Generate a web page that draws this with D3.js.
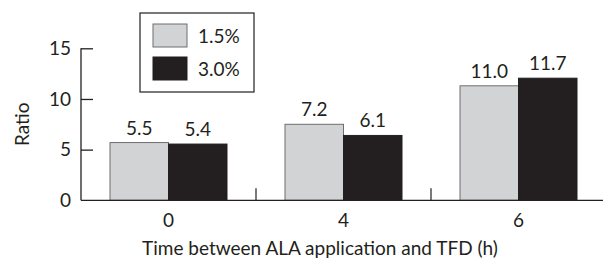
<!DOCTYPE html>
<html>
<head>
<meta charset="utf-8">
<script src="https://cdn.jsdelivr.net/npm/d3@7"></script>
<style>
  html, body { margin: 0; padding: 0; background: #fff; }
  svg { display: block; font-family: Lato, "Open Sans", sans-serif; }
</style>
</head>
<body>
<div id="chart"></div>
<script>
// categories (hours between ALA application and TFD)
const categories = ['0', '4', '6'];
const seriesNames = ['1.5%', '3.0%'];
// bar heights as drawn
const values15 = [5.7, 7.5, 11.3];
const values30 = [5.55, 6.4, 12.05];
// printed value labels
const labels15 = ['5.5', '7.2', '11.0'];
const labels30 = ['5.4', '6.1', '11.7'];
const yTicks = [0, 5, 10, 15];

const width = 603, height = 261;
const ink = '#231f20';
const colors = { '1.5%': '#d1d3d4', '3.0%': '#231f20' };

const rows = categories.map((c, i) => ({
    cat: c,
    bars: [
        { key: '1.5%', value: values15[i], label: labels15[i] },
        { key: '3.0%', value: values30[i], label: labels30[i] },
    ],
}));

const svg = d3.select('#chart')
    .append('svg')
    .attr('width', width)
    .attr('height', height);

const x = d3.scaleBand()
    .domain(categories)
    .range([81, 606]);

const xs = d3.scaleBand()
    .domain(seriesNames)
    .range([29, x.bandwidth() - 29]);

const y = d3.scaleLinear()
    .domain([0, 15])
    .range([200.3, 48.3]);

// bars
const groups = svg.append('g')
    .selectAll('g')
    .data(rows)
    .enter()
    .append('g')
    .attr('transform', d => `translate(${x(d.cat)},0)`);

groups.selectAll('rect')
    .data(d => d.bars)
    .enter()
    .append('rect')
    .attr('x', d => xs(d.key))
    .attr('y', d => y(d.value))
    .attr('width', xs.bandwidth())
    .attr('height', d => y(0) - y(d.value))
    .attr('fill', d => colors[d.key])
    .attr('stroke', d => d.key === '1.5%' ? '#6d6e71' : ink)
    .attr('stroke-width', 1);

groups.selectAll('text')
    .data(d => d.bars)
    .enter()
    .append('text')
    .attr('x', d => xs(d.key) + xs.bandwidth() / 2)
    .attr('y', d => y(d.value) - 8)
    .attr('text-anchor', 'middle')
    .attr('font-size', 19)
    .attr('fill', ink)
    .text(d => d.label);

// y axis (inner ticks)
const yAxis = svg.append('g')
    .attr('transform', 'translate(81,0)')
    .call(d3.axisLeft(y).tickValues(yTicks).tickSize(-12).tickPadding(10));
yAxis.select('.domain').attr('d', `M0,${y(15)}V${y(0)}`);
yAxis.selectAll('.tick').filter(d => d === 0).select('line').remove();

// x axis
const xAxis = svg.append('g')
    .attr('transform', `translate(0,${y(0)})`)
    .call(d3.axisBottom(x).tickSize(0).tickPadding(13));
xAxis.select('.domain').attr('d', 'M81,0H603');

// separator ticks between groups
svg.append('g')
    .selectAll('line')
    .data(categories.slice(1))
    .enter()
    .append('line')
    .attr('x1', d => x(d))
    .attr('x2', d => x(d))
    .attr('y1', y(0))
    .attr('y2', y(0) - 12)
    .attr('stroke', ink)
    .attr('stroke-width', 1.2);

svg.selectAll('.domain, .tick line')
    .attr('stroke', ink)
    .attr('stroke-width', 1.3);
svg.selectAll('.tick text')
    .attr('font-family', 'Lato, "Open Sans", sans-serif')
    .attr('font-size', 19)
    .attr('fill', ink);

// axis titles
svg.append('text')
    .attr('x', 320)
    .attr('y', 255)
    .attr('text-anchor', 'middle')
    .attr('font-size', 19)
    .attr('fill', ink)
    .text('Time between ALA application and TFD (h)');

svg.append('text')
    .attr('transform', `translate(29,${y(7.5)}) rotate(-90)`)
    .attr('text-anchor', 'middle')
    .attr('font-size', 19)
    .attr('fill', ink)
    .text('Ratio');

// legend
const legend = svg.append('g').attr('transform', 'translate(140,13)');
legend.append('rect')
    .attr('width', 114)
    .attr('height', 79)
    .attr('fill', '#fff')
    .attr('stroke', ink)
    .attr('stroke-width', 1.2);

const items = legend.selectAll('g.item')
    .data(seriesNames)
    .enter()
    .append('g')
    .attr('class', 'item')
    .attr('transform', (d, i) => `translate(13,${11 + i * 33})`);

items.append('rect')
    .attr('width', 34)
    .attr('height', 23)
    .attr('fill', d => colors[d])
    .attr('stroke', d => d === '1.5%' ? '#6d6e71' : ink)
    .attr('stroke-width', 1);

items.append('text')
    .attr('x', 45)
    .attr('y', 19)
    .attr('font-size', 19)
    .attr('fill', ink)
    .text(d => d);
</script>
</body>
</html>
